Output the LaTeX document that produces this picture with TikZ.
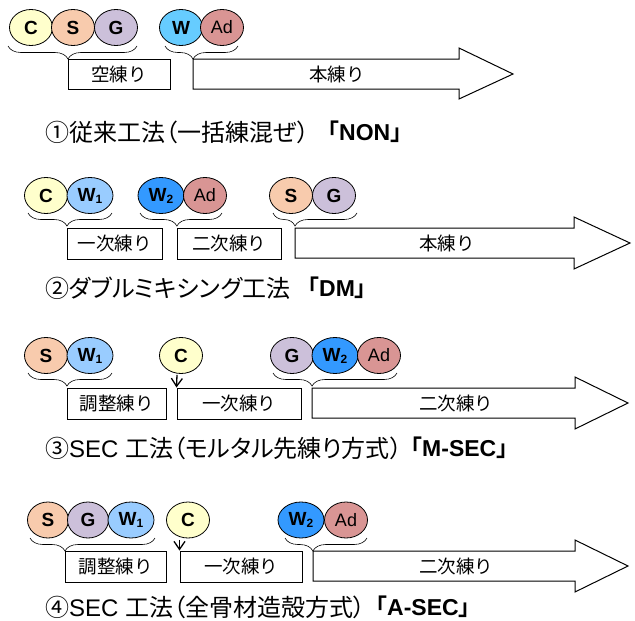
\documentclass[tikz,border=0pt]{standalone}
\usepackage{fontspec}
\setmainfont{Liberation Sans}
\newfontfamily\jp[BoldFont={Noto Sans CJK JP Bold}]{Noto Sans CJK JP}
\newfontfamily\jpp[RawFeature=+palt]{Noto Sans CJK JP}
\usetikzlibrary{shapes.geometric,decorations.pathreplacing,arrows.meta,calc}
\definecolor{cC}{HTML}{FFFFCC}
\definecolor{cS}{HTML}{F8CBAD}
\definecolor{cG}{HTML}{CCC0DA}
\definecolor{cW}{HTML}{66CCFF}
\definecolor{cWa}{HTML}{99CCFF}
\definecolor{cWb}{HTML}{3399FF}
\definecolor{cAd}{HTML}{D99594}
\newcommand{\Wsub}[1]{W\raisebox{-2pt}{\fontsize{12}{12}\selectfont #1}}
\begin{document}
\begin{tikzpicture}[x=1pt,y=-1pt,
  ball/.style={ellipse,draw,line width=0.8pt,minimum width=43pt,minimum height=36pt,inner sep=0pt,font=\fontsize{19}{19}\selectfont\bfseries},
  wball/.style={ball,minimum width=46pt},
  adball/.style={ball,fill=cAd,font=\fontsize{18}{18}\selectfont},
  stagebox/.style={draw,line width=1pt,inner sep=0pt,font=\jp\fontsize{18.5}{18.5}\selectfont},
  bigarrow/.style={draw,line width=1pt,fill=white},
  arrowtext/.style={inner sep=0pt,font=\jp\fontsize{18.5}{18.5}\selectfont},
  brc/.style={decorate,decoration={brace,mirror,amplitude=13pt,aspect=#1},line width=0.6pt},
  captext/.style={anchor=west,inner sep=0pt,font=\fontsize{24}{24}\selectfont},
  captextb/.style={anchor=west,inner sep=0pt,font=\fontsize{23}{23}\selectfont\bfseries},
  feed/.style={line width=1.3pt,-{Straight Barb[length=8pt,width=11pt]}}]
\useasboundingbox (0,0) rectangle (635,621);
\fill[white] (0,0) rectangle (635,621);

% ---------- Row 1 ----------
\node[ball,fill=cC] (r1c) at (31,27.5) {C};
\node[ball,fill=cS] (r1s) at (73,27.5) {S};
\node[ball,fill=cG] (r1g) at (116,27.5) {G};
\node[ball,fill=cW] (r1w) at (181,27.5) {W};
\node[adball] (r1ad) at (222,27.5) {Ad};
\draw[brc=0.465] (8,46) -- (137,46);
\draw[brc=0.384] (165,46) -- (238,46);
\node[stagebox,minimum width=102pt,minimum height=30pt] (r1b1) at (119,74) {空練り};
\draw[bigarrow] (193,59) -- (459,59) -- (459,48) -- (513,74) -- (459,99) -- (459,89) -- (193,89) -- cycle;
\node[arrowtext] (r1a) at (337,74) {本練り};
\node[captext] (r1t) at (45,132) {\jpp ①従来工法（一括練混ぜ）};
\node[captextb] (r1tb) at (316,132) {{\jp\bfseries 「}NON{\jp\bfseries 」}};

% ---------- Row 2 ----------
\node[ball,fill=cC] (r2c) at (46,195.5) {C};
\node[wball,fill=cWa] (r2w1) at (90,195.5) {\Wsub{1}};
\node[wball,fill=cWb] (r2w2) at (161,195.5) {\Wsub{2}};
\node[adball] (r2ad) at (205,195.5) {Ad};
\node[ball,fill=cS] (r2s) at (291,195.5) {S};
\node[ball,fill=cG] (r2g) at (334,195.5) {G};
\draw[brc=0.464] (28,213) -- (112,213);
\draw[brc=0.45] (140,213) -- (222,213);
\draw[brc=0.262] (273,213) -- (357,213);
\node[stagebox,minimum width=95pt,minimum height=31pt] (r2b1) at (114.5,243.5) {一次練り};
\node[stagebox,minimum width=104pt,minimum height=31pt] (r2b2) at (229,243.5) {二次練り};
\draw[bigarrow] (295,228) -- (574,228) -- (574,217) -- (630,243) -- (574,269) -- (574,258) -- (295,258) -- cycle;
\node[arrowtext] (r2a) at (447,243) {本練り};
\node[captext] (r2t) at (45,288) {\jpp ②ダブルミキシング工法};
\node[captextb] (r2tb) at (296,288) {{\jp\bfseries 「}DM{\jp\bfseries 」}};

% ---------- Row 3 ----------
\node[ball,fill=cS] (r3s) at (46,355.5) {S};
\node[wball,fill=cWa] (r3w1) at (90,355.5) {\Wsub{1}};
\node[ball,fill=cC] (r3c) at (181,355.5) {C};
\node[ball,fill=cG] (r3g) at (292,355.5) {G};
\node[wball,fill=cWb] (r3w2) at (335,355.5) {\Wsub{2}};
\node[adball] (r3ad) at (379,355.5) {Ad};
\draw[brc=0.464] (28,373) -- (112,373);
\draw[brc=0.315] (273,373) -- (397,373);
\node[stagebox,minimum width=99pt,minimum height=31pt] (r3b1) at (116.5,403.5) {調整練り};
\node[stagebox,minimum width=124pt,minimum height=31pt] (r3b2) at (239,403.5) {一次練り};
\draw[feed] ([xshift=-4pt,yshift=-1pt]r3c.south) -- (r3b2.north west);
\draw[bigarrow] (312,388) -- (575,388) -- (575,377) -- (628,403) -- (575,429) -- (575,418) -- (312,418) -- cycle;
\node[arrowtext] (r3a) at (456,403) {二次練り};
\node[captext] (r3t) at (45,448) {{\jpp ③}SEC {\jpp 工法（モルタル先練り方式）}};
\node[captextb] (r3tb) at (399,448) {{\jp\bfseries 「}M-SEC{\jp\bfseries 」}};

% ---------- Row 4 ----------
\node[ball,fill=cS,minimum width=41pt] (r4s) at (48,520) {S};
\node[ball,fill=cG,minimum width=41pt] (r4g) at (88,520) {G};
\node[wball,fill=cWa] (r4w1) at (131,520) {\Wsub{1}};
\node[ball,fill=cC] (r4c) at (188,520) {C};
\node[wball,fill=cWb] (r4w2) at (301,520) {\Wsub{2}};
\node[adball] (r4ad) at (346,520) {Ad};
\draw[brc=0.28] (30,538) -- (155,538);
\draw[brc=0.34] (285,538) -- (367,538);
\node[stagebox,minimum width=101pt,minimum height=31pt] (r4b1) at (115.5,566.5) {調整練り};
\node[stagebox,minimum width=122pt,minimum height=31pt] (r4b2) at (241,566.5) {一次練り};
\draw[feed] ([yshift=-1.5pt]r4b2.north west |- r4c.south) -- (r4b2.north west);
\draw[bigarrow] (313,551) -- (575,551) -- (575,540) -- (628,566) -- (575,592) -- (575,581) -- (313,581) -- cycle;
\node[arrowtext] (r4a) at (456,566) {二次練り};
\node[captext] (r4t) at (45,607) {{\jpp ④}SEC {\jpp 工法（全骨材造殻方式）}};
\node[captextb] (r4tb) at (364,607) {{\jp\bfseries 「}A-SEC{\jp\bfseries 」}};
\end{tikzpicture}
\end{document}
